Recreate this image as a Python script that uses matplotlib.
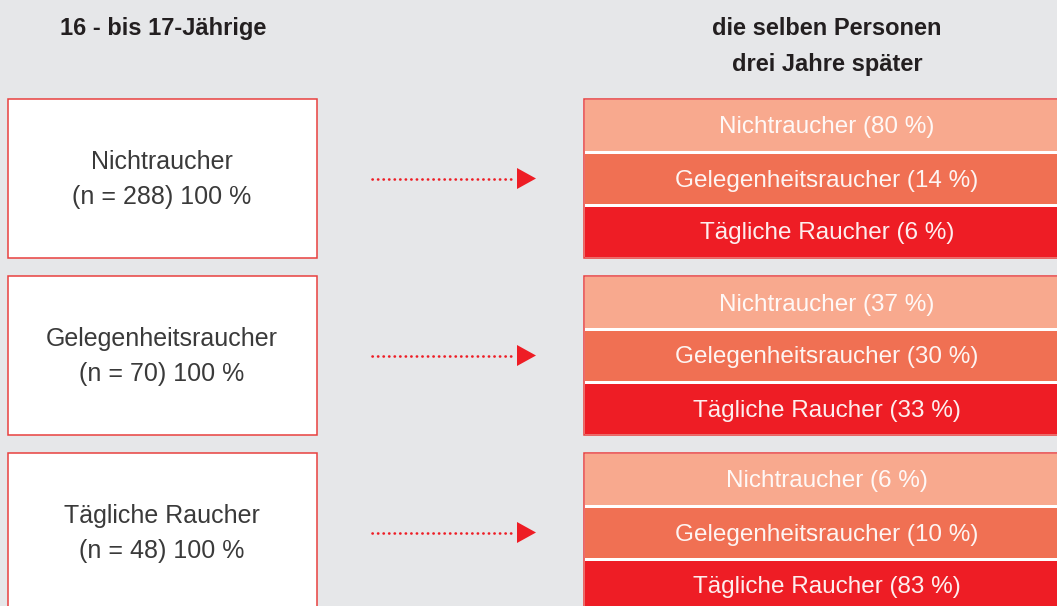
import matplotlib.pyplot as plt
from matplotlib.patches import Rectangle, Polygon

plt.rcParams['font.family'] = ['Liberation Sans', 'DejaVu Sans']

# Daten
groups = ["Nichtraucher", "Gelegenheitsraucher", "Tägliche Raucher"]
n_values = [288, 70, 48]
later_cats = ["Nichtraucher", "Gelegenheitsraucher", "Tägliche Raucher"]
pct_nicht = [80, 37, 6]
pct_gelegen = [14, 30, 10]
pct_taeglich = [6, 33, 83]
left_title = "16 - bis 17-Jährige"
right_title = "die selben Personen\ndrei Jahre später"

band_colors = ["#f8a98e", "#f07053", "#ee1d25"]
bg = "#e6e7e9"
border = "#e8403f"

W, H = 1057, 606
fig = plt.figure(figsize=(W / 100, H / 100), dpi=100, facecolor=bg)
ax = fig.add_axes([0, 0, 1, 1])
ax.set_xlim(0, W)
ax.set_ylim(H, 0)
ax.axis("off")
ax.set_facecolor(bg)

ax.text(163, 29, left_title, ha="center", va="center", fontsize=17,
        fontweight="bold", color="#231f20")
ax.text(827, 46.5, right_title, ha="center", va="center", fontsize=17,
        fontweight="bold", color="#231f20", linespacing=1.7)

top0, box_h, step = 99, 159, 177
band_h = box_h / 3
pcts = list(zip(pct_nicht, pct_gelegen, pct_taeglich))

for i, (g, n) in enumerate(zip(groups, n_values)):
    top = top0 + i * step
    yc = top + box_h / 2
    # linke Box
    ax.add_patch(Rectangle((8, top), 309, box_h, facecolor="white",
                           edgecolor=border, lw=1.1, zorder=2))
    ax.text(162, yc + 1, f"{g}\n(n = {n}) 100 %", ha="center", va="center",
            fontsize=18, color="#3a3a3a", linespacing=1.6, zorder=3)
    # Pfeil
    ax.plot([372, 516], [yc, yc], color="#ee1d25", lw=1.9,
            linestyle=(0, (0.1, 2.0)), dash_capstyle="round", zorder=3)
    ax.add_patch(Polygon([[517, yc - 10.5], [536, yc], [517, yc + 10.5]],
                         closed=True, facecolor="#ee1d25", edgecolor="none", zorder=3))
    # rechte Stapel
    ax.add_patch(Rectangle((584, top), W - 584 + 5, box_h, facecolor="white",
                           edgecolor=border, lw=1.1, zorder=1))
    for j, (cat, p) in enumerate(zip(later_cats, pcts[i])):
        y0 = top + j * band_h
        ax.add_patch(Rectangle((585, y0 + (1.5 if j else 0.5)), W - 585 + 5,
                               band_h - (3 if j else 2), facecolor=band_colors[j],
                               edgecolor="none", zorder=2))
        ax.text(827, y0 + band_h / 2 + 2, f"{cat} ({p} %)", ha="center", va="center",
                fontsize=17.5, color="white", alpha=0.93, zorder=3)

fig.savefig("out.png", dpi=100, facecolor=bg)
